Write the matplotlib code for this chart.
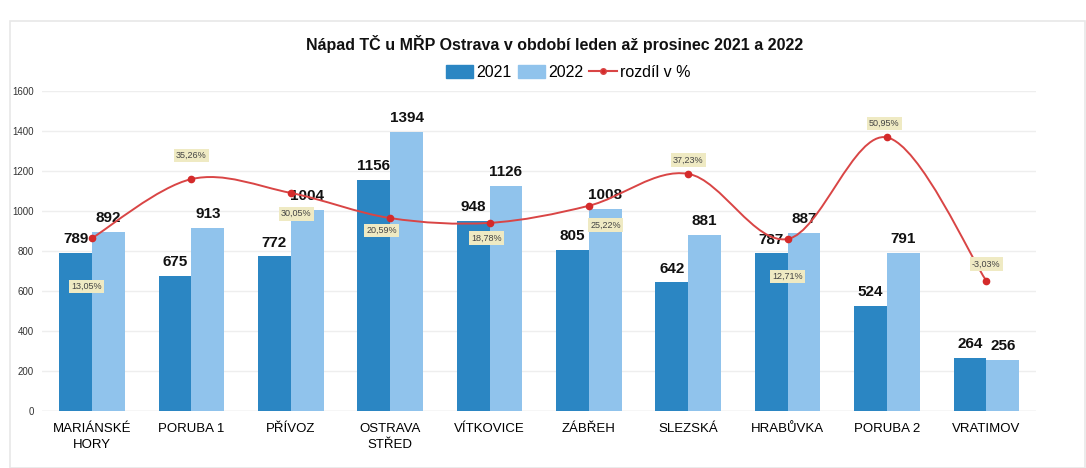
import numpy as np
import matplotlib.pyplot as plt
from matplotlib.path import Path
from matplotlib.patches import PathPatch, Patch, Rectangle
from matplotlib.lines import Line2D

plt.rcParams['font.family'] = ['Liberation Sans', 'DejaVu Sans']

# data
categories = ['MARIÁNSKÉ\nHORY', 'PORUBA 1', 'PŘÍVOZ', 'OSTRAVA\nSTŘED', 'VÍTKOVICE',
              'ZÁBŘEH', 'SLEZSKÁ', 'HRABŮVKA', 'PORUBA 2', 'VRATIMOV']
y2021 = [789, 675, 772, 1156, 948, 805, 642, 787, 524, 264]
y2022 = [892, 913, 1004, 1394, 1126, 1008, 881, 887, 791, 256]
diff_pct = [13.05, 35.26, 30.05, 20.59, 18.78, 25.22, 37.23, 12.71, 50.95, -3.03]

# label offsets (points) for the percentage boxes
pct_offsets = [(-4, -35), (0, 17), (4, -15), (-6, -9), (-2, -11),
               (12, -14), (0, 10), (0, -27), (-2, 10), (0, 12)]

c2021 = '#2b86c3'
c2022 = '#90c3ec'
cline = '#d94545'

fig = plt.figure(figsize=(10.86, 4.68), dpi=100)
ax = fig.add_axes([0.039, 0.122, 0.915, 0.684])

x = np.arange(len(categories))
w = 0.33
b1 = ax.bar(x - w / 2, y2021, w, color=c2021, zorder=2)
b2 = ax.bar(x + w / 2, y2022, w, color=c2022, zorder=2)

for rect, v in list(zip(b1, y2021)) + list(zip(b2, y2022)):
    ax.annotate(str(v), (rect.get_x() + rect.get_width() / 2, v),
                xytext=(0, 5), textcoords='offset points', ha='center', va='bottom',
                fontsize=11, fontweight='bold', color='#111111', zorder=5)

ax.set_xlim(-0.5, len(categories) - 0.5)
ax.set_ylim(0, 1600)
ax.set_yticks(range(0, 1601, 200))
ax.set_xticks(x)
ax.set_xticklabels(categories, fontsize=9.5, linespacing=1.35)
ax.tick_params(axis='y', labelsize=7, length=0, pad=6, labelcolor='#333333')
ax.tick_params(axis='x', length=0, pad=9)
ax.grid(axis='y', color='#eeeeee', linewidth=1, zorder=0)
for s in ax.spines.values():
    s.set_visible(False)
ax.axhline(0, color='#e2e2e2', linewidth=1, zorder=1)

# percentage line on hidden secondary axis, smoothed like Excel
ax2 = ax.twinx()
ax2.set_ylim(-52, 68.5)
ax2.axis('off')

pts = np.column_stack([x, diff_pct]).astype(float)
ext = np.vstack([pts[0], pts, pts[-1]])
verts = [tuple(pts[0])]
codes = [Path.MOVETO]
for i in range(1, len(ext) - 2):
    p0, p1, p2, p3 = ext[i - 1], ext[i], ext[i + 1], ext[i + 2]
    verts += [tuple(p1 + (p2 - p0) / 6), tuple(p2 - (p3 - p1) / 6), tuple(p2)]
    codes += [Path.CURVE4] * 3
ax2.add_patch(PathPatch(Path(verts, codes), facecolor='none', edgecolor=cline,
                        linewidth=1.4, zorder=3))
ax2.plot(x, diff_pct, linestyle='none', marker='o', markersize=4.5, color='#d42a2a', zorder=4)

for xi, p, off in zip(x, diff_pct, pct_offsets):
    ax2.annotate(('%.2f%%' % p).replace('.', ','), (xi, p), xytext=off,
                 textcoords='offset points', ha='center', va='center',
                 fontsize=6.5, color='#444444', zorder=6,
                 bbox=dict(boxstyle='square,pad=0.25', facecolor='#efeac3', edgecolor='none'))

fig.text(0.511, 0.905, 'Nápad TČ u MŘP Ostrava v období leden až prosinec 2021 a 2022',
         ha='center', va='center', fontsize=11.5, fontweight='bold', color='#111111')

handles = [Patch(color=c2021), Patch(color=c2022),
           Line2D([], [], color=cline, marker='o', markersize=4, markerfacecolor='#d42a2a')]
fig.legend(handles, ['2021', '2022', 'rozdíl v %'], loc='center', bbox_to_anchor=(0.523, 0.845),
           ncol=3, frameon=False, fontsize=11.5, handlelength=1.7, handleheight=0.9,
           handletextpad=0.2, columnspacing=0.4, borderpad=0)

# faint chart frame
fig.patches.append(Rectangle((0.009, 0.0), 0.99, 0.955, transform=fig.transFigure,
                             fill=False, edgecolor='#e8e8e8', linewidth=1.2))

plt.savefig('out.png', dpi=100)
